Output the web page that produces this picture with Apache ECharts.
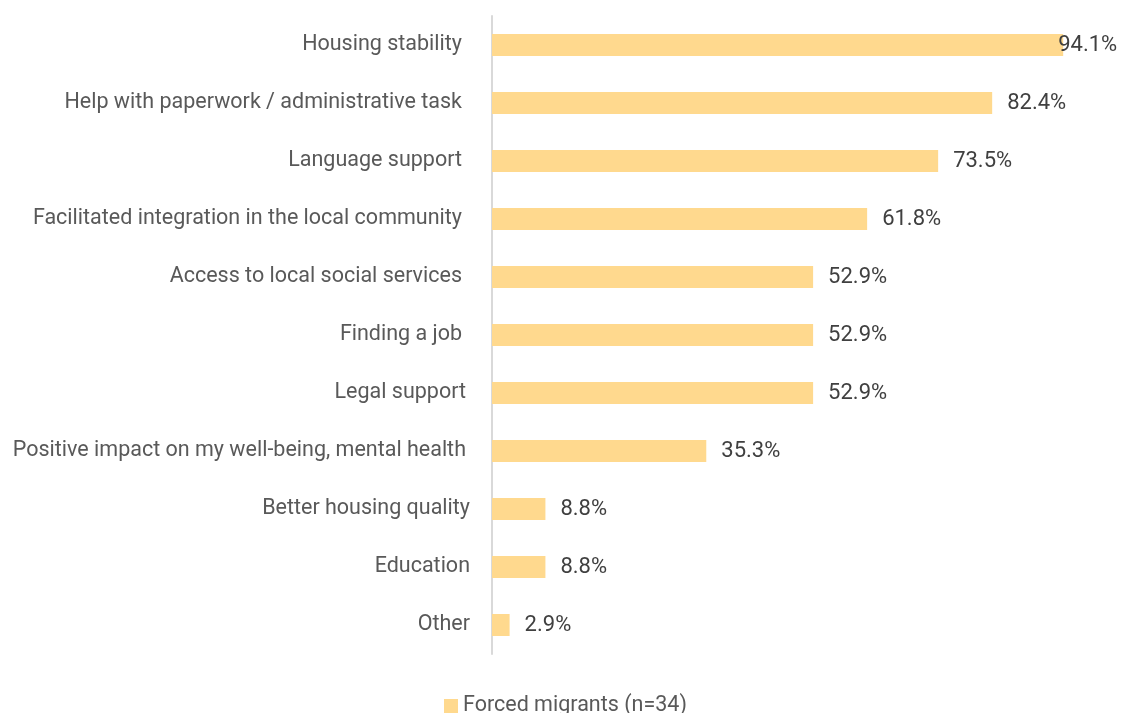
<!DOCTYPE html>
<html>
<head>
<meta charset="utf-8">
<script src="https://cdn.jsdelivr.net/npm/echarts@6/dist/echarts.min.js"></script>
<style>html,body{margin:0;padding:0;background:#fff}#c{width:1123px;height:713px}</style>
</head>
<body>
<div id="c"></div>
<script>
var categories = [
  "Housing stability",
  "Help with paperwork / administrative task",
  "Language support",
  "Facilitated integration in the local community",
  "Access to local social services",
  "Finding a job",
  "Legal support",
  "Positive impact on my well-being, mental health",
  "Better housing quality",
  "Education",
  "Other"
];
var values = [94.1, 82.4, 73.5, 61.8, 52.9, 52.9, 52.9, 35.3, 8.8, 8.8, 2.9];
var seriesName = "Forced migrants (n=34)";

var FONT = "Roboto, 'Open Sans', sans-serif";
var chart = echarts.init(document.getElementById('c'), null, {renderer: 'canvas'});
var data = values.map(function (v, i) {
  var d = {value: v};
  if (i === 0) d.label = {distance: -5};
  return d;
});
// per-row right padding of category labels (reference labels are not exactly aligned)
var labelPad = [8, 8, 8, 8, 8, 8, 4, 4, 0, 0, 0];
chart.setOption({
  animation: false,
  grid: {left: 492, right: 24, top: 16, bottom: 59, containLabel: false},
  xAxis: {
    type: 'value', min: 0, max: 100, show: false
  },
  yAxis: {
    type: 'category',
    data: categories,
    inverse: true,
    axisLine: {show: true, lineStyle: {color: '#D9D9D9', width: 2}},
    axisTick: {show: false},
    axisLabel: {
      color: '#595959', fontSize: 21.5, fontFamily: FONT, margin: 22,
      formatter: function (v, i) { return '{p' + labelPad[i] + '|' + v + '}'; },
      rich: {
        p0: {color: '#595959', fontSize: 21.5, fontFamily: FONT, padding: [0, 0, 0, 0]},
        p4: {color: '#595959', fontSize: 21.5, fontFamily: FONT, padding: [0, 4, 0, 0]},
        p8: {color: '#595959', fontSize: 21.5, fontFamily: FONT, padding: [0, 8, 0, 0]}
      }
    }
  },
  legend: {
    bottom: -9, left: 439,
    itemWidth: 14, itemHeight: 14, itemGap: 6,
    icon: 'rect',
    textStyle: {color: '#595959', fontSize: 21.5, fontFamily: FONT},
    data: [seriesName]
  },
  series: [{
    name: seriesName,
    type: 'bar',
    data: data,
    barWidth: 22,
    itemStyle: {color: '#FFD98E'},
    label: {
      show: true, position: 'right', distance: 15,
      color: '#404040', fontSize: 22, fontFamily: FONT,
      formatter: function (p) { return p.value.toFixed(1) + '%'; }
    }
  }]
});
</script>
</body>
</html>
